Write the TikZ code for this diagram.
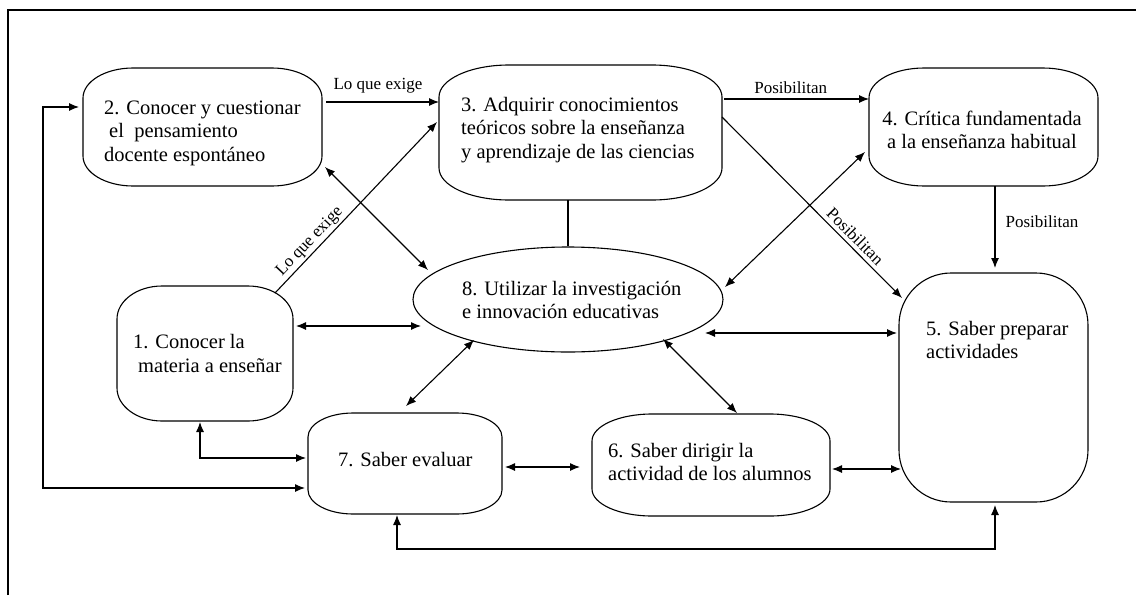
\documentclass[tikz,border=0pt]{standalone}
\usepackage{fontspec}
\setmainfont{Liberation Serif}
\usetikzlibrary{arrows.meta,calc,shapes.geometric}
\tikzset{
  boxarea/.style={rectangle,draw=none,inner sep=0pt,outer sep=0pt},
  shapeline/.style={line width=1.1pt,black},
  boxtext/.style={inner sep=0pt,align=left,font=\fontsize{20.5}{23.5}\selectfont,text=black},
  lab/.style={inner sep=0pt,font=\fontsize{17}{20}\selectfont,text=black},
  arr/.style={-{Latex[length=10pt,width=8pt]},line width=1.1pt,black},
  dbl/.style={{Latex[length=10pt,width=8pt]}-{Latex[length=10pt,width=8pt]},line width=1.1pt,black},
  plain/.style={line width=1.1pt,black}
}
\newcommand\blobdraw[3]{%
  \draw[shapeline] ($(#1.north west)+(0,#3)$)
    arc[start angle=180,end angle=90,x radius=#2pt,y radius=#3pt]
    -- ($(#1.north east)+(-#2,0)$)
    arc[start angle=90,end angle=0,x radius=#2pt,y radius=#3pt]
    -- ($(#1.south east)+(0,-#3)$)
    arc[start angle=0,end angle=-90,x radius=#2pt,y radius=#3pt]
    -- ($(#1.south west)+(#2,0)$)
    arc[start angle=270,end angle=180,x radius=#2pt,y radius=#3pt]
    -- cycle;}
\begin{document}
\begin{tikzpicture}[x=1pt,y=-1pt]
\useasboundingbox (0,0) rectangle (1136,595);
% frame
\draw[line width=1.5pt,black] (8,595) -- (8,10) -- (1136,10);

% shape areas
\node[boxarea,minimum width=239pt,minimum height=118pt] (n2) at (202.5,127) {};
\node[boxarea,minimum width=283pt,minimum height=135pt] (n3) at (580.5,132.5) {};
\node[boxarea,minimum width=229pt,minimum height=118pt] (n4) at (983.5,127) {};
\node[boxarea,minimum width=189pt,minimum height=229pt] (n5) at (993.5,387.5) {};
\node[boxarea,minimum width=176pt,minimum height=135pt] (n1) at (205,353.5) {};
\node[boxarea,minimum width=194pt,minimum height=101pt] (n7) at (405,463.5) {};
\node[boxarea,minimum width=238pt,minimum height=102pt] (n6) at (711,465) {};
\node[ellipse,draw,line width=1.1pt,black,inner sep=0pt,minimum width=310pt,minimum height=105pt] (n8) at (568,299.5) {};

\blobdraw{n2}{50}{30}
\blobdraw{n3}{70}{32}
\blobdraw{n4}{55}{30}
\blobdraw{n5}{52}{52}
\blobdraw{n1}{45}{33}
\blobdraw{n7}{45}{24}
\blobdraw{n6}{60}{27}

% texts
\node[boxtext,anchor=west] (t2) at (104,133) {2. Conocer y cuestionar\\\hspace*{5pt}el\ \ pensamiento\\docente espontáneo};
\node[boxtext,anchor=west] (t3) at (461,130) {3. Adquirir conocimientos\\teóricos sobre la enseñanza\\y aprendizaje de las ciencias};
\node[boxtext,align=center] (t4) at (982,130) {4. Crítica fundamentada\\a la enseñanza habitual};
\node[boxtext,anchor=west] (t5) at (926,340) {5. Saber preparar\\actividades};
\node[boxtext,anchor=west] (t1) at (133,353.5) {1. Conocer la\\\hspace*{5pt}materia a enseñar};
\node[boxtext,anchor=west] (t7) at (338,460) {7. Saber evaluar};
\node[boxtext,anchor=west] (t6) at (608,462) {6. Saber dirigir la\\actividad de los alumnos};
\node[boxtext,anchor=west] (t8) at (462,300) {8. Utilizar la investigación\\e innovación educativas};

% connectors
\draw[arr] ($(n2.north east)+(4,34)$) -- node[lab,above=8.5pt,pos=0.46] (l1) {Lo que exige} ($(n3.north west)+(0,37)$);
\draw[arr] ($(n3.north east)+(2,34)$) -- node[lab,above=4.5pt,pos=0.46] (l2) {Posibilitan} ($(n4.north west)+(0,31)$);
\draw[arr] ($(n4.south west)+(126,0)$) -- node[lab,right=10pt,pos=0.44] (l3) {Posibilitan} ($(n5.north west)+(96,-5)$);
\draw[arr] ($(n3.north east)+(0,52)$) -- node[lab,sloped,above=3.8pt,pos=0.70] (l4) {Posibilitan} ($(n5.north west)+(3,25)$);
\draw[arr] ($(n1.north east)+(-18,7)$) -- node[lab,sloped,above=2pt,pos=0.26] (l5) {Lo que exige} ($(n3.north west)+(-2,57)$);
\draw[dbl] ($(n2.north east)+(3,99)$) -- ($(n8.center)+(-140,-29.5)$);
\draw[dbl] ($(n8.center)+(157,-12.5)$) -- ($(n4.north west)+(-4,84)$);
\draw[plain] (n8.north |- n3.south) -- (n8.north);
\draw[dbl] ($(n1.north east)+(3,40)$) -- ($(n8.center)+(-147,26.5)$);
\draw[dbl] ($(n8.center)+(137,33.5)$) -- ($(n5.north west)+(-2,60)$);
\draw[dbl] ($(n8.center)+(-94,40.5)$) -- ($(n7.north west)+(98,-7)$);
\draw[dbl] ($(n8.center)+(95,39.5)$) -- ($(n6.north west)+(145,-1)$);
\draw[dbl] ($(n7.north east)+(3,54)$) -- ($(n6.north west)+(-12,53)$);
\draw[dbl] ($(n6.north east)+(2,55)$) -- ($(n5.north west)+(2,196)$);
\draw[dbl] ($(n1.south west)+(83,1)$) |- ($(n7.north west)+(-2,45)$);
\coordinate (loopL) at (43,300);
\coordinate (loopB) at (700,549);
\draw[dbl] ($(n2.north west)+(-4,39)$) -| (loopL) |- ($(n7.north west)+(-3,75)$);
\draw[dbl] ($(n7.south west)+(89,1)$) |- (loopB) -| ($(n5.south west)+(96,3)$);
\end{tikzpicture}
\end{document}
